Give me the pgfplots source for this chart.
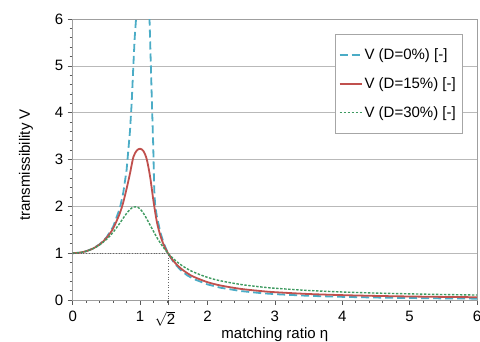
\documentclass[border=0pt]{standalone}
\usepackage{pgfplots}
\pgfplotsset{compat=1.18}
\usepackage{fontspec}
\setmainfont{Liberation Sans}
\setsansfont{Liberation Sans}
\definecolor{aqua}{RGB}{75,172,198}
\definecolor{exred}{RGB}{192,80,77}
\definecolor{exgreen}{RGB}{62,154,96}
\newcommand{\ff}{\fontsize{15}{18}\selectfont}
\begin{document}
\begin{tikzpicture}
\useasboundingbox (-72.7pt,-42pt) rectangle (407.3pt,300pt);
\begin{axis}[
  at={(0pt,0pt)}, anchor=south west,
  scale only axis, width=404.3pt, height=281pt,
  xmin=0, xmax=6, ymin=0, ymax=6,
  xtick={0,1,2,3,4,5,6}, ytick={0,1,2,3,4,5,6},
  extra x ticks={1.41421},
  extra x tick labels={$\sqrt{\mbox{2}}$},
  extra x tick style={grid=none, xticklabel style={xshift=-3pt}},
  minor x tick num=4, minor y tick num=4,
  ymajorgrids, grid style={gray!55, line width=0.6pt},
  tick align=outside, xtick pos=bottom, ytick pos=left,
  major tick length=5pt, minor tick length=3pt,
  tick style={black!65, line width=0.6pt},
  axis line style={gray!75, line width=0.7pt},
  /pgf/number format/assume math mode=true,
  tick label style={font=\ff},
  xticklabel style={yshift=-2.5pt},
  yticklabel style={xshift=-1pt},
  xlabel={matching ratio η}, ylabel={transmissibility V},
  label style={font=\ff},
  xlabel style={at={(axis description cs:0.5,0)}, anchor=base, yshift=-39pt},
  ylabel style={at={(axis description cs:-0.106,0.48)}, anchor=base},
  unbounded coords=jump,
  legend style={at={(0.963,0.945)}, anchor=north east, draw=gray!70, fill=white,
    font=\ff, row sep=12.5pt, inner xsep=4pt, inner ysep=12pt},
  legend cell align=left,
  legend image code/.code={\draw[#1] (0pt,0pt) -- (22pt,0pt);},
]
\addplot[aqua, line width=1.8pt, dash pattern=on 8pt off 4pt] coordinates {
(0,1)(0.1,1.010)(0.2,1.042)(0.3,1.099)(0.4,1.190)(0.5,1.333)(0.6,1.563)(0.7,1.961)(0.75,2.286)(0.8,2.778)(0.85,3.604)(0.875,4.2)(0.9,5.0)(0.92,5.6)(0.94,6.0)(0.96,6.6)
(1.0,nan)
(1.12,6.8)(1.14,6.0)(1.16,5.0)(1.18,4.0)(1.195,3.3)(1.21,2.35)(1.225,2.0)(1.25,1.78)(1.3,1.449)(1.35,1.215)(1.414,1.0)(1.5,0.8)(1.6,0.641)(1.7,0.526)(1.8,0.446)(2.0,0.333)(2.2,0.260)(2.5,0.190)(2.8,0.146)(3.0,0.125)(3.5,0.089)(4.0,0.067)(4.5,0.052)(5.0,0.042)(5.5,0.034)(6.0,0.029)
};
\addlegendentry{V (D=0\%) [-]}
\addplot[exred, line width=1.8pt, smooth] coordinates {
(0,1)(0.1,1.010)(0.2,1.042)(0.3,1.098)(0.4,1.187)(0.5,1.322)(0.6,1.528)(0.7,1.853)(0.75,2.084)(0.8,2.377)(0.85,2.70)(0.9,3.05)(0.95,3.19)(1.0,3.23)(1.05,3.18)(1.1,3.0)(1.15,2.62)(1.2,2.1)(1.25,1.66)(1.3,1.38)(1.35,1.18)(1.414,1.0)(1.5,0.825)(1.6,0.680)(1.7,0.573)(1.8,0.493)(2.0,0.381)(2.2,0.308)(2.5,0.236)(2.8,0.190)(3.0,0.167)(3.5,0.128)(4.0,0.104)(4.5,0.087)(5.0,0.075)(5.5,0.066)(6.0,0.059)
};
\addlegendentry{V (D=15\%) [-]}
\addplot[exgreen, line width=1.4pt, dash pattern=on 2.5pt off 1.5pt, smooth] coordinates {
(0,1)(0.1,1.010)(0.2,1.041)(0.3,1.095)(0.4,1.177)(0.5,1.293)(0.6,1.447)(0.7,1.642)(0.75,1.747)(0.8,1.849)(0.85,1.933)(0.9,1.985)(0.95,1.99)(1.0,1.944)(1.05,1.852)(1.1,1.730)(1.15,1.595)(1.2,1.465)(1.25,1.333)(1.3,1.218)(1.35,1.115)(1.414,1.0)(1.5,0.874)(1.6,0.757)(1.7,0.665)(1.8,0.592)(2.0,0.483)(2.2,0.408)(2.5,0.330)(2.8,0.278)(3.0,0.251)(3.5,0.203)(4.0,0.171)(4.5,0.148)(5.0,0.131)(5.5,0.117)(6.0,0.106)
};
\addlegendentry{V (D=30\%) [-]}
\addplot[black!60, line width=0.7pt, dotted, forget plot] coordinates {(0,1)(1.41421,1)(1.41421,0)};
\end{axis}
\end{tikzpicture}
\end{document}
